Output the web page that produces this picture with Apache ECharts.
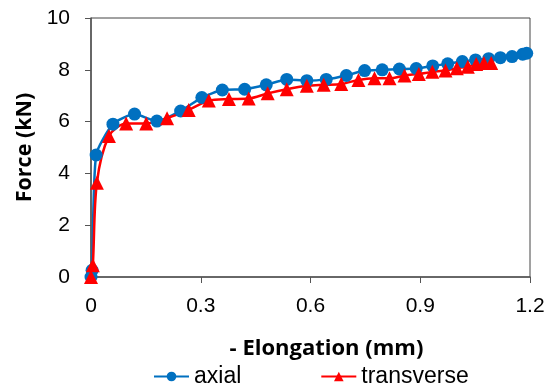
<!DOCTYPE html>
<html>
<head>
<meta charset="utf-8">
<script src="https://cdn.jsdelivr.net/npm/echarts@6/dist/echarts.min.js"></script>
<style>
  html, body { margin: 0; padding: 0; background: #fff; }
  #chart { width: 548px; height: 389px; }
</style>
</head>
<body>
<div id="chart"></div>
<script>
// axial: elongation (mm) / force (kN)
const axialX = [0, 0.003, 0.014, 0.06, 0.119, 0.18, 0.245, 0.303, 0.359, 0.42, 0.479, 0.535, 0.59, 0.643, 0.698, 0.748, 0.796, 0.843, 0.889, 0.934, 0.975, 1.015, 1.051, 1.087, 1.119, 1.151, 1.18, 1.191]
const axialY = [0, 0.26, 4.71, 5.9, 6.29, 6.02, 6.41, 6.93, 7.22, 7.25, 7.42, 7.63, 7.58, 7.63, 7.78, 7.97, 8.0, 8.03, 8.05, 8.15, 8.23, 8.32, 8.38, 8.43, 8.47, 8.51, 8.6, 8.64]

// transverse
const transX = [0, 0.005, 0.016, 0.049, 0.096, 0.151, 0.208, 0.267, 0.322, 0.377, 0.431, 0.483, 0.535, 0.59, 0.636, 0.684, 0.731, 0.775, 0.816, 0.857, 0.896, 0.933, 0.969, 1.0, 1.03, 1.053, 1.074, 1.094]
const transY = [0, 0.45, 3.64, 5.44, 5.93, 5.93, 6.13, 6.45, 6.81, 6.87, 6.89, 7.09, 7.25, 7.38, 7.42, 7.45, 7.61, 7.67, 7.67, 7.78, 7.84, 7.92, 7.97, 8.06, 8.12, 8.22, 8.26, 8.26]

const xTicks = [0, 0.3, 0.6, 0.9, 1.2]

const pairs = (xs, ys) => xs.map((x, i) => [x, ys[i]])

const chart = echarts.init(document.getElementById('chart'))
chart.setOption({
  animation: false,
  textStyle: { fontFamily: 'Liberation Sans, Arial, sans-serif', color: '#000' },
  grid: {
    left: 91, right: 18, top: 18, bottom: 112,
    show: true, borderColor: '#444', borderWidth: 1
  },
  legend: {
    top: 360,
    left: 148,
    itemGap: 79,
    itemWidth: 35,
    itemHeight: 12,
    textStyle: { fontSize: 23, color: '#000', fontFamily: 'Liberation Sans, Arial, sans-serif' },
    data: ['axial', 'transverse']
  },
  xAxis: {
    type: 'value',
    min: 0, max: 1.2, interval: 0.3,
    name: '- Elongation (mm)',
    nameLocation: 'middle',
    nameGap: 61,
    nameTextStyle: {
      fontSize: 22, fontWeight: 'bold', fontFamily: 'Open Sans, sans-serif', color: '#000',
      padding: [0, 0, 0, 32]
    },
    splitLine: { show: false },
    axisLine: { lineStyle: { color: '#555', width: 1.5 } },
    axisTick: { show: true, inside: false, length: 6, lineStyle: { color: '#555' } },
    axisLabel: {
      fontSize: 21, margin: 19, color: '#000',
      formatter: v => xTicks.includes(+v.toFixed(1)) ? String(+v.toFixed(1)) : ''
    }
  },
  yAxis: {
    type: 'value',
    min: 0, max: 10, interval: 2,
    name: 'Force (kN)',
    nameLocation: 'middle',
    nameGap: 55,
    nameTextStyle: { fontSize: 21.5, fontWeight: 'bold', fontFamily: 'Open Sans, sans-serif', color: '#000' },
    splitLine: { show: false },
    axisLine: { show: true, lineStyle: { color: '#555', width: 1.5 } },
    axisTick: { show: true, inside: false, length: 6, lineStyle: { color: '#555' } },
    axisLabel: { fontSize: 21, margin: 21, color: '#000' }
  },
  series: [
    {
      name: 'axial',
      type: 'line',
      data: pairs(axialX, axialY),
      symbol: 'circle',
      symbolSize: 13,
      smooth: 0.2,
      lineStyle: { color: '#0070C0', width: 2.5 },
      itemStyle: { color: '#0070C0' }
    },
    {
      name: 'transverse',
      type: 'line',
      data: pairs(transX, transY),
      symbol: 'triangle',
      symbolSize: 14,
      smooth: 0.3,
      lineStyle: { color: '#FF0000', width: 2.5 },
      itemStyle: { color: '#FF0000' }
    }
  ]
})
</script>
</body>
</html>
